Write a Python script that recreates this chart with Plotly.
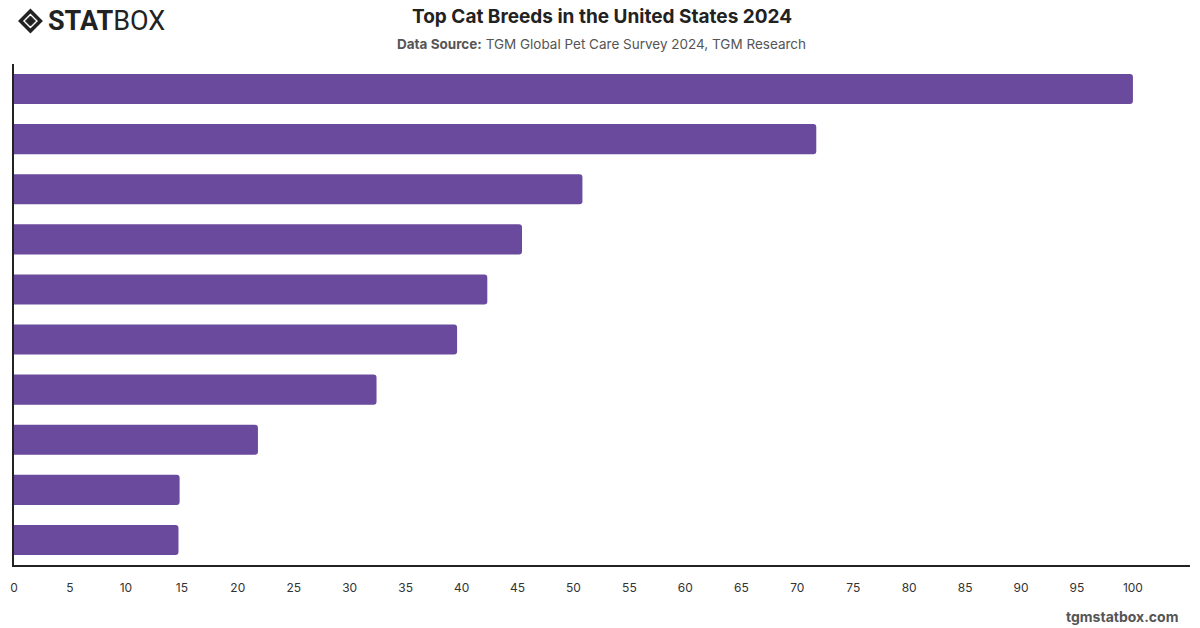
import plotly.graph_objects as go

breeds = ["Domestic Shorthair", "Maine Coon", "Persian", "Siamese", "Ragdoll",
          "Bengal", "British Shorthair", "Sphynx", "Scottish Fold", "Abyssinian"]
values = [100, 71.7, 50.8, 45.4, 42.3, 39.6, 32.4, 21.8, 14.8, 14.7]
tick_vals = list(range(0, 101, 5))
tick_text = [str(v) for v in tick_vals]

W, H = 1200, 628
L, R, T, B = 11, 10, 64, 63
pw, ph = W - L - R, H - T - B

def px(x):
    return (x - L) / pw

def py(y):
    return (H - B - y) / ph

fig = go.Figure(go.Bar(
    x=values, y=breeds, orientation="h",
    marker=dict(color="#6a4a9c", line=dict(width=0), cornerradius=3),
    width=0.6, hoverinfo="x+y",
))

fig.update_layout(
    width=W, height=H,
    margin=dict(l=L, r=R, t=T, b=B),
    paper_bgcolor="white", plot_bgcolor="white",
    font=dict(family="Inter, Roboto, sans-serif", color="#333"),
    showlegend=False,
    bargap=0.4,
    xaxis=dict(range=[0, 105.1], tickvals=tick_vals, ticktext=tick_text,
               showgrid=False, zeroline=False, showline=True, linecolor="#222",
               linewidth=1.5, ticks="", ticklabelstandoff=11,
               tickfont=dict(size=12, color="#333")),
    yaxis=dict(categoryorder="array", categoryarray=breeds[::-1],
               showticklabels=False, showgrid=False, zeroline=False,
               showline=True, linecolor="#222", linewidth=1.5, ticks="",
               range=[-0.5, 9.5]),
)

ann = []
ann.append(dict(text="<b>Top Cat Breeds in the United States 2024</b>",
                x=px(600), y=py(17), xref="paper", yref="paper",
                xanchor="center", yanchor="middle", showarrow=False,
                font=dict(size=19, color="#222")))
ann.append(dict(text="<b>Data Source:</b> TGM Global Pet Care Survey 2024, TGM Research",
                x=px(600), y=py(44), xref="paper", yref="paper",
                xanchor="center", yanchor="middle", showarrow=False,
                font=dict(size=13.5, color="#555")))
ann.append(dict(text="<b>tgmstatbox.com</b>",
                x=px(1180), y=py(616), xref="paper", yref="paper",
                xanchor="right", yanchor="middle", showarrow=False,
                font=dict(size=14, color="#555")))
ann.append(dict(text="<b>STAT</b>BOX",
                x=px(43), y=py(21), xref="paper", yref="paper",
                xanchor="left", yanchor="middle", showarrow=False,
                font=dict(size=27, color="#222", family="Roboto, sans-serif")))
fig.update_layout(annotations=ann)

cx, cy = 27.5, 21
def diamond(r):
    return (f"M {px(cx - r)} {py(cy)} L {px(cx)} {py(cy - r)} "
            f"L {px(cx + r)} {py(cy)} L {px(cx)} {py(cy + r)} Z")

fig.add_shape(type="path", path=diamond(10), xref="paper", yref="paper",
              line=dict(color="#222", width=3.5), fillcolor="rgba(0,0,0,0)")
fig.add_shape(type="path", path=diamond(5), xref="paper", yref="paper",
              line=dict(color="#222", width=1), fillcolor="#222")

fig.write_html("out.html")
